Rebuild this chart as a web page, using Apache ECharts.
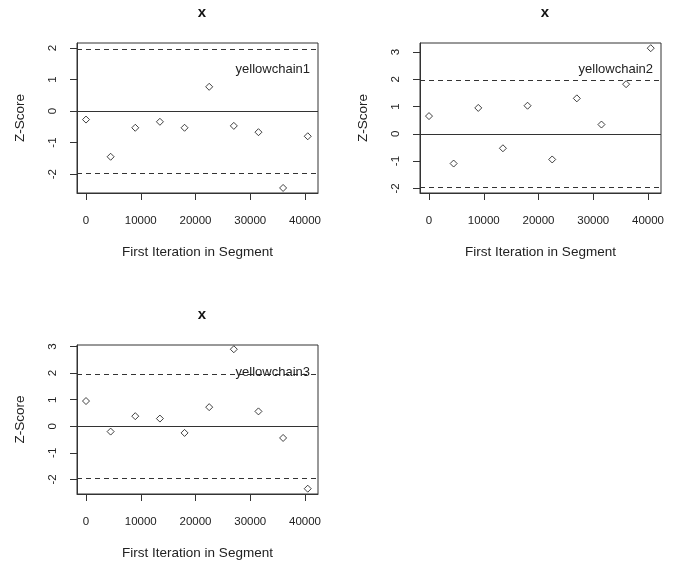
<!DOCTYPE html>
<html>
<head>
<meta charset="utf-8">
<script src="https://cdn.jsdelivr.net/npm/echarts@6/dist/echarts.min.js"></script>
<style>
  html, body { margin: 0; padding: 0; background: #fff; }
  #main { width: 686px; height: 567px; }
</style>
</head>
<body>
<div id="main"></div>
<script>
// first iteration of each segment
var iterations = [0, 4500, 9000, 13500, 18000, 22500, 27000, 31500, 36000, 40500];
var xTicks = [0, 10000, 20000, 30000, 40000];

// z-scores per chain
var chain1 = [-0.27, -1.45, -0.53, -0.34, -0.53, 0.77, -0.47, -0.67, -2.44, -0.80];
var chain2 = [0.65, -1.09, 0.95, -0.53, 1.03, -0.94, 1.30, 0.34, 1.82, 3.14];
var chain3 = [0.95, -0.20, 0.38, 0.29, -0.25, 0.72, 2.90, 0.56, -0.44, -2.35];

var chainNames = ['yellowchain1', 'yellowchain2', 'yellowchain3'];
var yTicks1 = [-2, -1, 0, 1, 2];
var yTicks2 = [-2, -1, 0, 1, 2, 3];
var yTicks3 = [-2, -1, 0, 1, 2, 3];

var txt = '#222';
var lineCol = '#333';
var font = 'Liberation Sans, Arial, sans-serif';

function pairs(xs, ys) {
    return xs.map(function (x, i) { return [x, ys[i]]; });
}

var panels = [
    { left: 77, top: 43, height: 150, ymin: -2.6, ymax: 2.16, ticks: yTicks1, data: chain1, legTop: 58 },
    { left: 420, top: 43, height: 150, ymin: -2.17, ymax: 3.33, ticks: yTicks2, data: chain2, legTop: 58 },
    { left: 77, top: 345, height: 149, ymin: -2.55, ymax: 3.06, ticks: yTicks3, data: chain3, legTop: 361 }
];

var dom = document.getElementById('main');
var myChart = echarts.init(dom, null, { renderer: 'canvas' });

var option = {
    backgroundColor: '#fff',
    animation: false,
    title: [],
    grid: [],
    xAxis: [],
    yAxis: [],
    series: []
};

panels.forEach(function (p, i) {
    option.title.push({
        text: 'x',
        left: p.left + 120,
        top: p.top - 43,
        textAlign: 'center',
        textStyle: { fontFamily: font, fontSize: 15, fontWeight: 'bold', color: '#111' }
    });
    option.title.push({
        text: chainNames[i],
        left: p.left + 228,
        top: p.legTop,
        textAlign: 'right',
        textStyle: { fontFamily: font, fontSize: 13, fontWeight: 'normal', color: txt }
    });
    option.grid.push({
        left: p.left, top: p.top, width: 241, height: p.height,
        show: true, borderColor: lineCol, borderWidth: 1, backgroundColor: 'transparent'
    });
    option.xAxis.push({
        type: 'value', gridIndex: i,
        position: 'bottom',
        min: -1644, max: 42374,
        name: 'First Iteration in Segment',
        nameLocation: 'middle', nameGap: 52,
        nameTextStyle: { fontFamily: font, fontSize: 13.5, color: txt },
        axisLine: { show: true, onZero: false, lineStyle: { color: lineCol } },
        axisTick: { show: true, inside: false, length: 7, customValues: xTicks, lineStyle: { color: lineCol } },
        axisLabel: {
            customValues: xTicks, margin: 22, fontFamily: font, fontSize: 11.5, color: txt,
            formatter: function (v) { return String(v); }
        },
        splitLine: { show: false }
    });
    option.yAxis.push({
        type: 'value', gridIndex: i,
        position: 'left',
        min: p.ymin, max: p.ymax,
        name: 'Z-Score',
        nameLocation: 'middle', nameGap: 50, nameRotate: 90,
        nameTextStyle: { fontFamily: font, fontSize: 13.5, color: txt },
        axisLine: { show: true, onZero: false, lineStyle: { color: lineCol } },
        axisTick: { show: true, inside: false, length: 7, customValues: p.ticks, lineStyle: { color: lineCol } },
        axisLabel: {
            customValues: p.ticks, rotate: 90, margin: 18, fontFamily: font, fontSize: 11.5, color: txt,
            formatter: function (v) { return String(v); }
        },
        splitLine: { show: false }
    });
    option.series.push({
        type: 'scatter',
        xAxisIndex: i, yAxisIndex: i,
        data: pairs(iterations, p.data),
        symbol: 'diamond',
        symbolSize: 7,
        itemStyle: { color: '#fff', borderColor: '#111', borderWidth: 1 },
        markLine: {
            silent: true,
            symbol: 'none',
            label: { show: false },
            data: [
                { yAxis: 0, lineStyle: { type: 'solid', color: lineCol, width: 1 } },
                { yAxis: 1.96, lineStyle: { type: [5, 4], color: lineCol, width: 1 } },
                { yAxis: -1.96, lineStyle: { type: [5, 4], color: lineCol, width: 1 } }
            ]
        }
    });
});

myChart.setOption(option);
window.addEventListener('resize', myChart.resize);
</script>
</body>
</html>
